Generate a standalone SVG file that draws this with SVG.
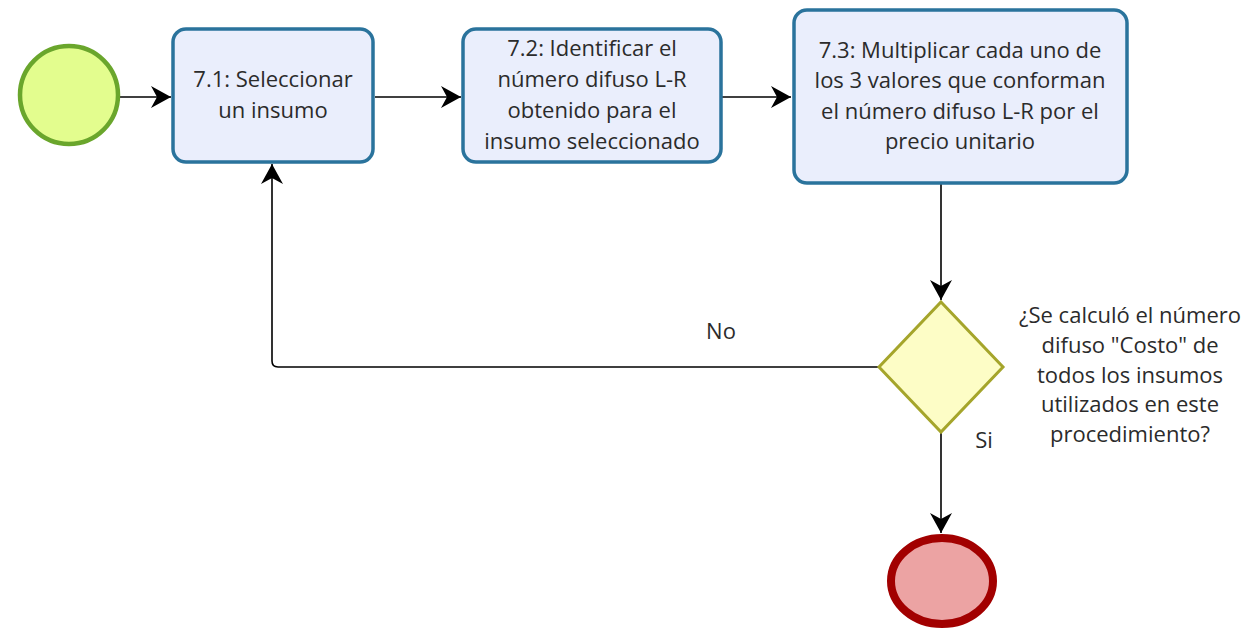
<svg xmlns="http://www.w3.org/2000/svg" width="1259" height="629" viewBox="0 0 1259 629">
<defs>
<marker id="ah" viewBox="0 0 20 22" refX="20" refY="11" markerWidth="20" markerHeight="22" markerUnits="userSpaceOnUse" orient="auto">
<path d="M0,0 L20,11 L0,22 L6,11 Z" fill="#000"/>
</marker>
<style>
.task{fill:#eaeefc;stroke:#2a739c;stroke-width:3.5}
.t{font-family:"Open Sans","Noto Sans",sans-serif;font-size:22px;fill:#2b2b2b;text-anchor:middle}
.c{fill:none;stroke:#000;stroke-width:1.6}
</style>
</defs>
<rect width="1259" height="629" fill="#fff"/>
<g id="connectors">
<path class="c" d="M120,97 L171,97" marker-end="url(#ah)"/>
<path class="c" d="M375,97 L461,97" marker-end="url(#ah)"/>
<path class="c" d="M722,97 L791,97" marker-end="url(#ah)"/>
<path class="c" d="M941,184 L941,300" marker-end="url(#ah)"/>
<path class="c" d="M879,367 L278,367 Q272,367 272,361 L272,164" marker-end="url(#ah)"/>
<path class="c" d="M941,432 L941,533" marker-end="url(#ah)"/>
</g>
<g id="start">
<circle cx="69" cy="95" r="49" fill="#e3fd8e" stroke="#6aa62c" stroke-width="4.5"/>
</g>
<g id="task71">
<rect class="task" x="173" y="29" width="200" height="133" rx="13"/>
<text class="t" x="273" y="87">7.1: Seleccionar</text>
<text class="t" x="273" y="118">un insumo</text>
</g>
<g id="task72">
<rect class="task" x="463" y="29" width="258" height="133" rx="13"/>
<text class="t" x="592" y="56">7.2: Identificar el</text>
<text class="t" x="592" y="87">número difuso L-R</text>
<text class="t" x="592" y="118">obtenido para el</text>
<text class="t" x="592" y="149">insumo seleccionado</text>
</g>
<g id="task73">
<rect class="task" x="794" y="10" width="333" height="173" rx="13"/>
<text class="t" x="960" y="58">7.3: Multiplicar cada uno de</text>
<text class="t" x="960" y="88">los 3 valores que conforman</text>
<text class="t" x="960" y="119">el número difuso L-R por el</text>
<text class="t" x="960" y="149">precio unitario</text>
</g>
<g id="gateway">
<polygon points="941,302 1003,367 941,432 879,367" fill="#fdfdc6" stroke="#a5a52b" stroke-width="3"/>
<text class="t" x="1130" y="323">¿Se calculó el número</text>
<text class="t" x="1130" y="353">difuso "Costo" de</text>
<text class="t" x="1130" y="383">todos los insumos</text>
<text class="t" x="1130" y="412">utilizados en este</text>
<text class="t" x="1130" y="442">procedimiento?</text>
</g>
<g id="labels">
<text class="t" x="721" y="339">No</text>
<text class="t" x="984" y="448">Si</text>
</g>
<g id="end">
<ellipse cx="942" cy="581" rx="51" ry="43" fill="#eca3a3" stroke="#a20000" stroke-width="8"/>
</g>
</svg>
